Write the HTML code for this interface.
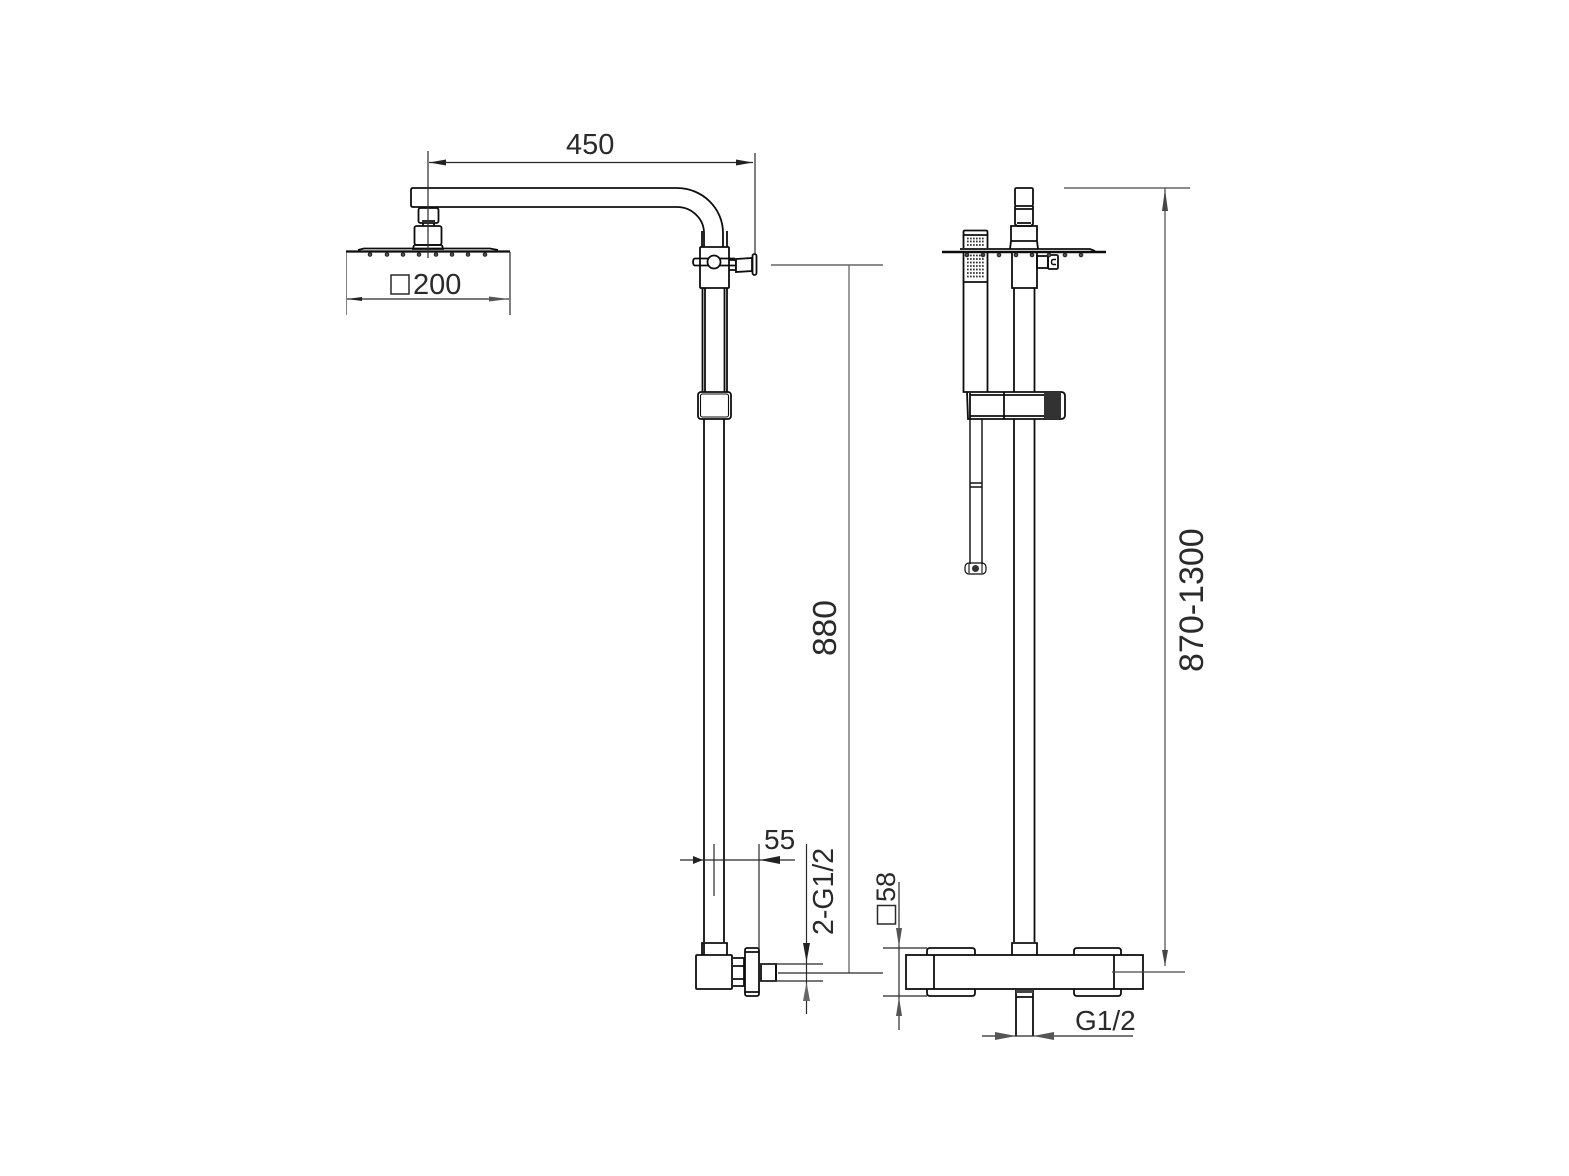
<!DOCTYPE html>
<html><head><meta charset="utf-8"><style>
html,body{margin:0;padding:0;background:#fff;width:1569px;height:1176px;overflow:hidden}
svg{display:block}
text{font-family:"Liberation Sans",sans-serif;fill:#2a2a2a}
</style></head><body>
<svg width="1569" height="1176" viewBox="0 0 1569 1176" xmlns="http://www.w3.org/2000/svg">
<defs><filter id="b" x="0" y="0" width="100%" height="100%"><feGaussianBlur stdDeviation="0.35"/></filter></defs>
<g filter="url(#b)">
<!-- LEFT: main lines -->
<g fill="none" stroke="#111" stroke-width="1.800">
<path d="M411 190Q411 188 413 188H677C702 188 723 208 723 233V247M413 207Q411 207 411 205V190M413 207H677C692 207 704 219 704 233V247"/>
<path d="M702 231V247M727 231V247"/>
<rect x="418.500" y="208" width="20" height="15" rx="2"/>
<path d="M423 223V226M434 223V226M422 221H435"/>
<rect x="414.500" y="226" width="27" height="19" rx="2"/>
<path d="M414 245L413 249H443L442 245M414 245H442"/>
<path d="M358 250L364 248.500H490L498 250"/>
<rect x="700" y="247" width="29" height="41" rx="1"/>
<path d="M694 258.500H735M694 265.500H735M694 258.500Q692 262 694 265.500"/>
<circle cx="714" cy="262" r="6.500" fill="#fff"/>
<path d="M729 260H736V270H729"/>
<path d="M736 259L752 258V271L736 272Z" fill="#fff"/>
<rect x="752.500" y="254" width="4" height="21" rx="2" fill="#fff"/>
<path d="M702.500 288V392M705 288V392M724.500 288V392M727 288V392"/>
<rect x="698" y="392" width="33" height="27" rx="3"/>
<rect x="700.500" y="394" width="28" height="23" rx="2" stroke-width="1.100"/>
<path d="M704 419V942M724 419V942"/>
<path d="M702 955V943H727V955M704 943V955" />
<rect x="696" y="955" width="36" height="34" rx="1"/>
<path d="M733 958H744V986H733M733 966H744M733 979H744"/>
<rect x="745" y="948" width="14" height="48" rx="2"/>
<path d="M745 952H759M745 992H759"/>
<path d="M761 964H776V981H761Z"/>
<path d="M776 964V981" stroke-width="2"/>
</g>
<!-- head thick bars -->
<path d="M346 251.500H510" stroke="#111" stroke-width="2.200"/>
<g fill="#555" stroke="#222" stroke-width="1">
<circle cx="370" cy="254.500" r="1.800"/><circle cx="387" cy="254.500" r="1.800"/><circle cx="403" cy="254.500" r="1.800"/><circle cx="419" cy="254.500" r="1.800"/><circle cx="436" cy="254.500" r="1.800"/><circle cx="452" cy="254.500" r="1.800"/><circle cx="468" cy="254.500" r="1.800"/><circle cx="485" cy="254.500" r="1.800"/>
</g>
<!-- RIGHT -->
<g fill="none" stroke="#111" stroke-width="1.800">
<rect x="1015" y="188" width="18" height="18" rx="1.500"/>
<path d="M1015 206V224L1017 226H1031L1033 224V206M1015 209H1033M1017 223H1031"/>
<path d="M1011 241V226H1037V241M1010 249L1011 241H1037L1038 249"/>
<path d="M960 249H1090L1095 251"/>
<path d="M1012 253V288H1037V253"/>
<path d="M1014 288V392M1034.500 288V392M1014 419V942M1034.500 419V942"/>
<rect x="1037" y="256" width="11" height="12"/>
<rect x="1048" y="255" width="10" height="14" rx="1.500" stroke-width="1.800"/>
<path d="M1056 259.500H1053.500Q1051.500 259.500 1051.500 262Q1051.500 264.500 1053.500 264.500H1056" stroke-width="1.400"/>
<path d="M963.500 248V232Q963.500 230.500 965 230.500H986Q987.500 230.500 987.500 232V248M964 235H987"/>
<path d="M963.500 253V392H967M987.500 253V392M964 282H988"/>
<path d="M967 392H1061Q1065 392 1065 396V415Q1065 419 1061 419H968L967 392"/>
<path d="M970 393V419M970 395H1044M970 416H1044M1004 392V419"/>
<path d="M970 419V564M982 419V564M970 483H982M970 487H982" stroke-width="1.400"/>
<rect x="965" y="563" width="21" height="11" rx="4" stroke-width="1.200"/>
<path d="M969 564V573M982 564V573" stroke-width="1.100"/>
<path d="M1012 955V943H1037V955M1014 943H1035"/>
<rect x="906" y="955" width="237" height="34"/>
<path d="M934 955V989M1114 955V989"/>
<path d="M927 955V951Q927 948 930 948H972Q975 948 975 951V955M927 989V993Q927 996 930 996H972Q975 996 975 993V989"/>
<path d="M1074 955V951Q1074 948 1077 948H1118Q1121 948 1121 951V955M1074 989V993Q1074 996 1077 996H1118Q1121 996 1121 993V989"/>
<path d="M1016 990V1036M1033 990V1036M1016 997H1033" />
</g>
<rect x="1016" y="990" width="17" height="3" fill="#444"/>
<rect x="1044" y="392" width="17" height="27" fill="#333"/>
<path d="M1063 396V415" stroke="#fff" stroke-width="1.500"/>
<circle cx="975.500" cy="568.500" r="3.500" fill="#333"/>
<path d="M942 252H1106" stroke="#111" stroke-width="2.600"/>
<g fill="#555" stroke="#222" stroke-width="1">
<circle cx="967" cy="255" r="1.800"/><circle cx="983" cy="255" r="1.800"/><circle cx="999" cy="255" r="1.800"/><circle cx="1016" cy="255" r="1.800"/><circle cx="1032" cy="255" r="1.800"/><circle cx="1049" cy="255" r="1.800"/><circle cx="1065" cy="255" r="1.800"/><circle cx="1081" cy="255" r="1.800"/>
</g>
<!-- shower dots -->
<g stroke="#333" stroke-width="1.700" stroke-dasharray="1.700 1.300" fill="none">
<path d="M967 238.500H985M967 241.500H985M967 245H985"/>
<path d="M967 255.500H985M967 259H985M967 262.500H985M967 266H985M967 269.500H985M967 273H985M967 276.500H985"/>
</g>
<!-- DIM lines -->
<g fill="none" stroke="#2a2a2a" stroke-width="1.200">
<path d="M428 151V258M755 153V254M429 162.500H753"/>
<path d="M346 252V315M510 252V315M347 299H509"/>
<rect x="391" y="275" width="18" height="19" stroke-width="1.500"/>
<path d="M771 265H883" stroke="#444"/>
<path d="M849 265V973" stroke="#666" stroke-width="1.300"/>
<path d="M680 860H795M714 844V896M759 844V950"/>
<path d="M806.500 844V1014M761 964H823M761 981H823M778 973H883"/>
<path d="M899 882V1030M883 948H927M883 996H927"/>
<rect x="877.500" y="905.500" width="18" height="18.500" stroke-width="1.500"/>
<path d="M1112 972H1185M1064 188H1190" stroke="#444"/>
<path d="M1165 188V966" stroke="#555" stroke-width="1.300"/>
<path d="M982 1036H1133"/>
</g>
<!-- arrows -->
<g fill="#222" stroke="none">
<path d="M429 162.500L446 159.500V165.500Z"/>
<path d="M753 162.500L736 159.500V165.500Z"/>
<path d="M347 299L362 297V301Z"/>
<path d="M509 299L489 296.500V301.500Z" fill="#555"/>
<path d="M703 860L693 856V864Z"/>
<path d="M760 860L780 856V864Z"/>
<path d="M806.500 962L803 943H810Z"/>
<path d="M806.500 982L803 1001H810Z" fill="#666"/>
<path d="M899 947L896 928H902Z" fill="#555"/>
<path d="M899 997L896 1016H902Z" fill="#555"/>
<path d="M1165 189L1162 211H1168Z" fill="#444"/>
<path d="M1165 966L1162 950H1168Z" fill="#444"/>
<path d="M1016 1036L995 1032V1040Z" fill="#555"/>
<path d="M1033 1036L1054 1032V1040Z" fill="#555"/>
</g>
<!-- Text -->
<text x="566" y="154" font-size="29">450</text>
<text x="413" y="294" font-size="29">200</text>
<text x="764" y="849" font-size="28">55</text>
<text x="1075" y="1030" font-size="28">G1/2</text>
<text transform="translate(833 935) rotate(-90)" font-size="28.500">2-G1/2</text>
<text transform="translate(895 902) rotate(-90)" font-size="27">58</text>
<text transform="translate(836 656) rotate(-90)" font-size="33.500">880</text>
<text transform="translate(1203 672) rotate(-90)" font-size="34">870-1300</text>
</g>
</svg>
</body></html>
